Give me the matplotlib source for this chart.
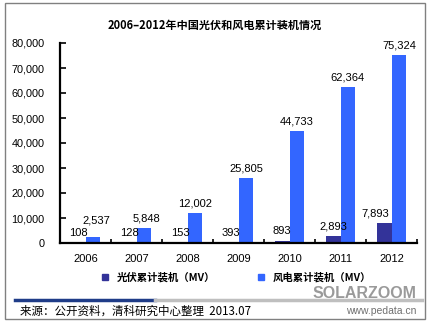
import matplotlib.pyplot as plt
import numpy as np
from matplotlib.patches import Rectangle
from matplotlib.lines import Line2D

plt.rcParams['font.family'] = ['Liberation Sans', 'Noto Sans CJK SC', 'DejaVu Sans']

years = ["2006", "2007", "2008", "2009", "2010", "2011", "2012"]
pv = [108, 128, 153, 393, 893, 2893, 7893]
wind = [2537, 5848, 12002, 25805, 44733, 62364, 75324]
pv_name = "光伏累计装机（MV）"
wind_name = "风电累计装机（MV）"

W, H = 430, 324
fig = plt.figure(figsize=(W / 100, H / 100), dpi=100)
ax = fig.add_axes([60 / W, 1 - 243 / H, 357 / W, 200 / H])

x = np.arange(len(years))
bw = 0.29
c_pv = "#333399"
c_wind = "#3366ff"
ax.bar(x - bw / 2, pv, bw, color=c_pv)
ax.bar(x + bw / 2, wind, bw, color=c_wind)

# data labels; a few nudged so they don't collide
pv_dx = [0, 0, 0, 0, 0, 0, -0.17]
wind_dx = [0.06, 0.05, 0, 0, 0, 0, 0]
wind_dy = [2600, 0, 0, 0, 0, 0, 0]
for i in range(len(years)):
    ax.text(x[i] - bw / 2 + pv_dx[i], pv[i] + 1800, f"{pv[i]:,}",
            ha="center", va="bottom", fontsize=8)
    ax.text(x[i] + bw / 2 + wind_dx[i], wind[i] + 1800 + wind_dy[i], f"{wind[i]:,}",
            ha="center", va="bottom", fontsize=8)

ax.set_xlim(-0.5, len(years) - 0.5)
ax.set_ylim(0, 80000)
ax.set_yticks(range(0, 80001, 10000))
ax.set_yticklabels([f"{v:,}" for v in range(0, 80001, 10000)], fontsize=7.8)
ax.set_xticks(x)
ax.set_xticklabels(years, fontsize=8)
ax.set_xticks(np.arange(0.5, len(years), 1), minor=True)
ax.tick_params(axis="x", which="major", length=0, pad=8)
ax.tick_params(axis="x", which="minor", direction="in", length=3, width=1.2)
ax.tick_params(axis="y", direction="in", length=4, width=1.2, pad=11)
for s in ["top", "right"]:
    ax.spines[s].set_visible(False)
ax.spines["left"].set_linewidth(1.6)
ax.spines["bottom"].set_linewidth(1.6)

fig.text(0.5, 1 - 25 / H, "2006–2012年中国光伏和风电累计装机情况", ha="center", va="center",
         fontsize=8, fontweight="bold", family=["Noto Sans CJK SC", "DejaVu Sans"])

# legend
handles = [Line2D([], [], marker="s", ls="", color=c_pv, markersize=4),
           Line2D([], [], marker="s", ls="", color=c_wind, markersize=4)]
fig.legend(handles, [pv_name, wind_name], loc="center", bbox_to_anchor=(233 / W, 1 - 277 / H),
           ncol=2, frameon=False, handletextpad=0.1, columnspacing=3.4,
           prop={"family": ["Noto Sans CJK SC"], "weight": "bold", "size": 7.5})

# frame and footer
fig.patches.append(Rectangle((5 / W, 1 - 319 / H), 420 / W, 316 / H, transform=fig.transFigure,
                             fill=False, ec="#808080", lw=1))
fig.add_artist(Line2D([15 / W, 155 / W], [1 - 300 / H] * 2, color="#1f3c88", lw=2.5))
fig.add_artist(Line2D([155 / W, 422 / W], [1 - 300 / H] * 2, color="#bfbfbf", lw=2.5))
fig.text(20 / W, 1 - 311 / H, "来源：公开资料，清科研究中心整理  2013.07", ha="left", va="center",
         fontsize=8.3, family=["Noto Sans CJK SC", "DejaVu Sans"])
fig.text(417 / W, 1 - 294 / H, "SOLARZOOM", ha="right", va="center", fontsize=11.5,
         fontweight="bold", color="#9a9a9a")
fig.text(416 / W, 1 - 311 / H, "www.pedata.cn", ha="right", va="center", fontsize=7.5,
         color="#707070")

fig.savefig("out.png", dpi=100)
